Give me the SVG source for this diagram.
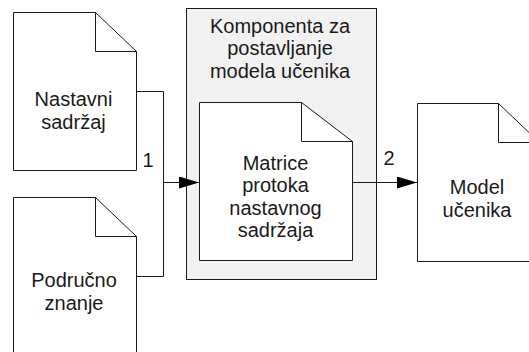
<svg xmlns="http://www.w3.org/2000/svg" width="529" height="352" viewBox="0 0 529 352">
<defs>
<style>
.doc{fill:#fff;stroke:#1a1a1a;stroke-width:1}
.fold{fill:none;stroke:#1a1a1a;stroke-width:1}
.box{fill:#f2f2f2;stroke:#1a1a1a;stroke-width:1}
.con{fill:none;stroke:#1a1a1a;stroke-width:1}
text{font-family:"Liberation Sans",Arial,sans-serif;font-size:20px;fill:#1a1a1a;text-anchor:middle}
</style>
<marker id="arr" markerWidth="20" markerHeight="12" refX="20" refY="6" orient="auto" markerUnits="userSpaceOnUse">
<path d="M0,0 L20,6 L0,12 Z" fill="#000"/>
</marker>
</defs>
<g id="nastavni">
<path class="doc" d="M13.5,12.5 H95.5 L136.5,51.5 V170.5 H13.5 Z"/>
<path class="fold" d="M95.5,12.5 V51.5 H136.5"/>
<text x="73.5" y="105.5">Nastavni</text>
<text x="73.5" y="128.5">sadržaj</text>
</g>
<g id="podrucno">
<path class="doc" d="M13.5,197.5 H95.5 L136.5,236.5 V360 H13.5 Z"/>
<path class="fold" d="M95.5,197.5 V236.5 H136.5"/>
<text x="74" y="287">Područno</text>
<text x="74" y="310">znanje</text>
</g>
<g id="komponenta">
<rect class="box" x="186.5" y="8.5" width="190" height="271"/>
<text x="280" y="32.5">Komponenta za</text>
<text x="280" y="55">postavljanje</text>
<text x="280" y="77.5">modela učenika</text>
</g>
<g id="matrice">
<path class="doc" d="M199.5,102.5 H301.5 L352.5,141.5 V260.5 H199.5 Z"/>
<path class="fold" d="M301.5,102.5 V141.5 H352.5"/>
<text x="275.5" y="169.5">Matrice</text>
<text x="275.5" y="192">protoka</text>
<text x="275.5" y="214.5">nastavnog</text>
<text x="275.5" y="237">sadržaja</text>
</g>
<g id="model">
<path class="doc" d="M417.5,103.5 H498.5 L539.5,142.5 V261.5 H417.5 Z"/>
<path class="fold" d="M498.5,103.5 V142.5 H539.5"/>
<text x="477" y="194">Model</text>
<text x="477" y="217">učenika</text>
</g>
<g id="connectors">
<polyline class="con" points="136.5,91.5 163.5,91.5 163.5,276.5 136.5,276.5"/>
<line class="con" x1="163.5" y1="182.5" x2="199" y2="182.5" marker-end="url(#arr)"/>
<line class="con" x1="352.5" y1="182.5" x2="417" y2="182.5" marker-end="url(#arr)"/>
<text x="148" y="167">1</text>
<text x="389" y="165">2</text>
</g>
</svg>
